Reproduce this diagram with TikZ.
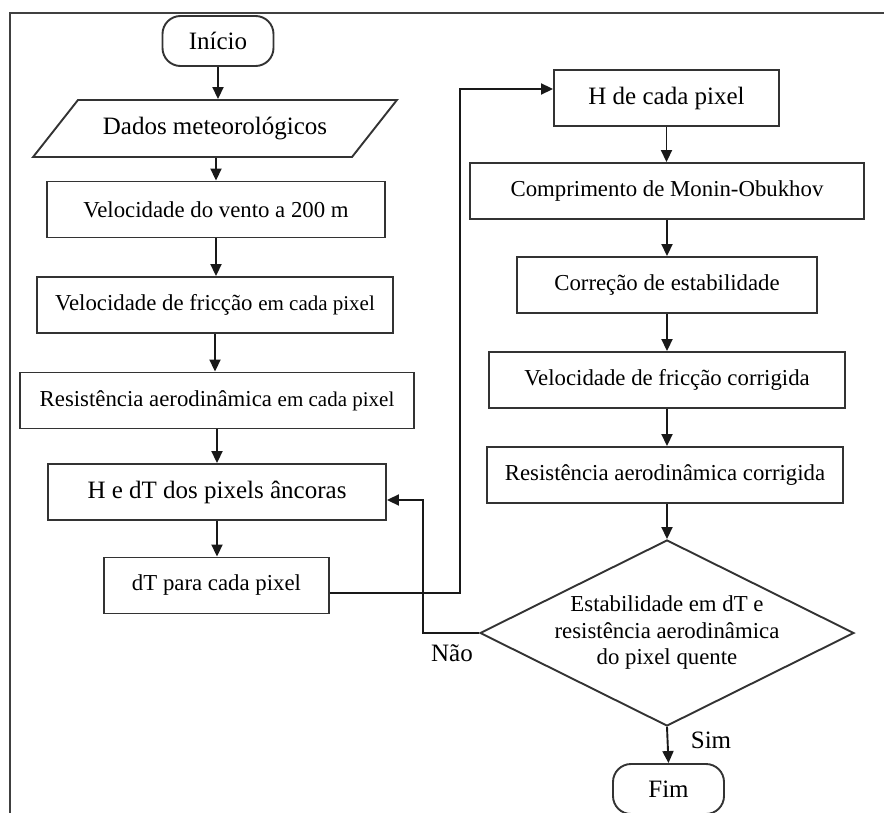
\documentclass[tikz,border=0pt]{standalone}
\usepackage{fontspec}
\setmainfont{Liberation Serif}
\usetikzlibrary{shapes.geometric,arrows.meta}
\newcommand{\fcbase}{\fontsize{22.8pt}{26.5pt}\selectfont}
\newcommand{\fcbig}{\fontsize{25pt}{29pt}\selectfont}
\newcommand{\fcsmall}{\fontsize{21pt}{25pt}\selectfont}

\begin{document}
\begin{tikzpicture}[x=1pt,y=-1pt,line width=1.9pt,
    box/.style={draw=black!80, rectangle, inner sep=0pt, minimum height=56pt, font=\fcbase},
    term/.style={draw=black!80, rectangle, rounded corners=18pt, inner sep=0pt,
        minimum width=111pt, minimum height=50pt, font=\fcbig},
    data/.style={draw=black!80, trapezium, trapezium left angle=31.8, trapezium right angle=148.2,
        trapezium stretches=true, inner sep=0pt, minimum width=364pt, minimum height=57pt, font=\fcbig},
    cond/.style={draw=black!80, diamond, shape aspect=2, inner sep=0pt, align=center,
        minimum width=374pt, minimum height=186pt, font=\fcbase},
    arr/.style={draw=black!90, -{Triangle[length=12pt,width=11pt]}}]
    \useasboundingbox (0,0) rectangle (884,813);
    \draw[black!75, line width=2.2pt] (10,830) -- (10,12.7) -- (900,12.7);

    \node[term] at (218,41)          (start)    {Início};
    \node[data] at (215,128.5)       (met)      {Dados meteorológicos};
    \node[box, minimum width=338pt] at (216,209.5)   (vento)  {Velocidade do vento a 200 m};
    \node[box, minimum width=356pt] at (215,305)     (fric)   {Velocidade de fricção {\fcsmall em cada pixel}};
    \node[box, minimum width=394pt] at (217,400.5)   (resist) {Resistência aerodinâmica {\fcsmall em cada pixel}};
    \node[box, minimum width=338pt, font=\fcbig] at (217,492) (ancoras) {H e dT dos pixels âncoras};
    \node[box, minimum width=225pt] at (216.5,585.5) (dTpix)  {dT para cada pixel};

    \node[box, minimum width=225pt, font=\fcbig] at (666.5,98) (Hpix) {H de cada pixel};
    \node[box, minimum width=394pt] at (667,191)     (monin)    {Comprimento de Monin-Obukhov};
    \node[box, minimum width=300pt] at (667,285)     (estab)    {Correção de estabilidade};
    \node[box, minimum width=356pt] at (667,380)     (fric_c)   {Velocidade de fricção corrigida};
    \node[box, minimum width=356pt] at (665,475)     (resist_c) {Resistência aerodinâmica corrigida};
    \node[cond] at (667,633)         (teste)    {Estabilidade em dT e\\resistência aerodinâmica\\do pixel quente};
    \node[term] at (668.5,789)       (fim)      {Fim};
    \node[font=\fcbig] at (452,653)  (nao)      {Não};
    \node[font=\fcbig] at (711,740)  (sim)      {Sim};

    \coordinate (volta)   at (460,593);
    \coordinate (retorno) at (423,633);

    \draw[arr] (start.south)   -- (start.south |- met.north);
    \draw[arr] (vento.north |- met.south) -- (vento.north);
    \draw[arr] (vento.south)   -- (vento.south |- fric.north);
    \draw[arr] (fric.south)    -- (fric.south |- resist.north);
    \draw[arr] (resist.south)  -- (resist.south |- ancoras.north);
    \draw[arr] (ancoras.south) -- (ancoras.south |- dTpix.north);
    \draw[arr] (dTpix.east |- volta) -- (volta) |- ([yshift=9pt]Hpix.west);

    \draw[arr] (Hpix.south)    -- (Hpix.south |- monin.north);
    \draw[arr] (monin.south)   -- (monin.south |- estab.north);
    \draw[arr] (estab.south)   -- (estab.south |- fric_c.north);
    \draw[arr] (fric_c.south)  -- (fric_c.south |- resist_c.north);
    \draw[arr] (teste.north |- resist_c.south) -- (teste.north);
    \draw[arr] (teste.west) -- (retorno) |- ([yshift=-8pt]ancoras.east);
    \draw[arr] (teste.south)   -- (fim.north);
\end{tikzpicture}
\end{document}
